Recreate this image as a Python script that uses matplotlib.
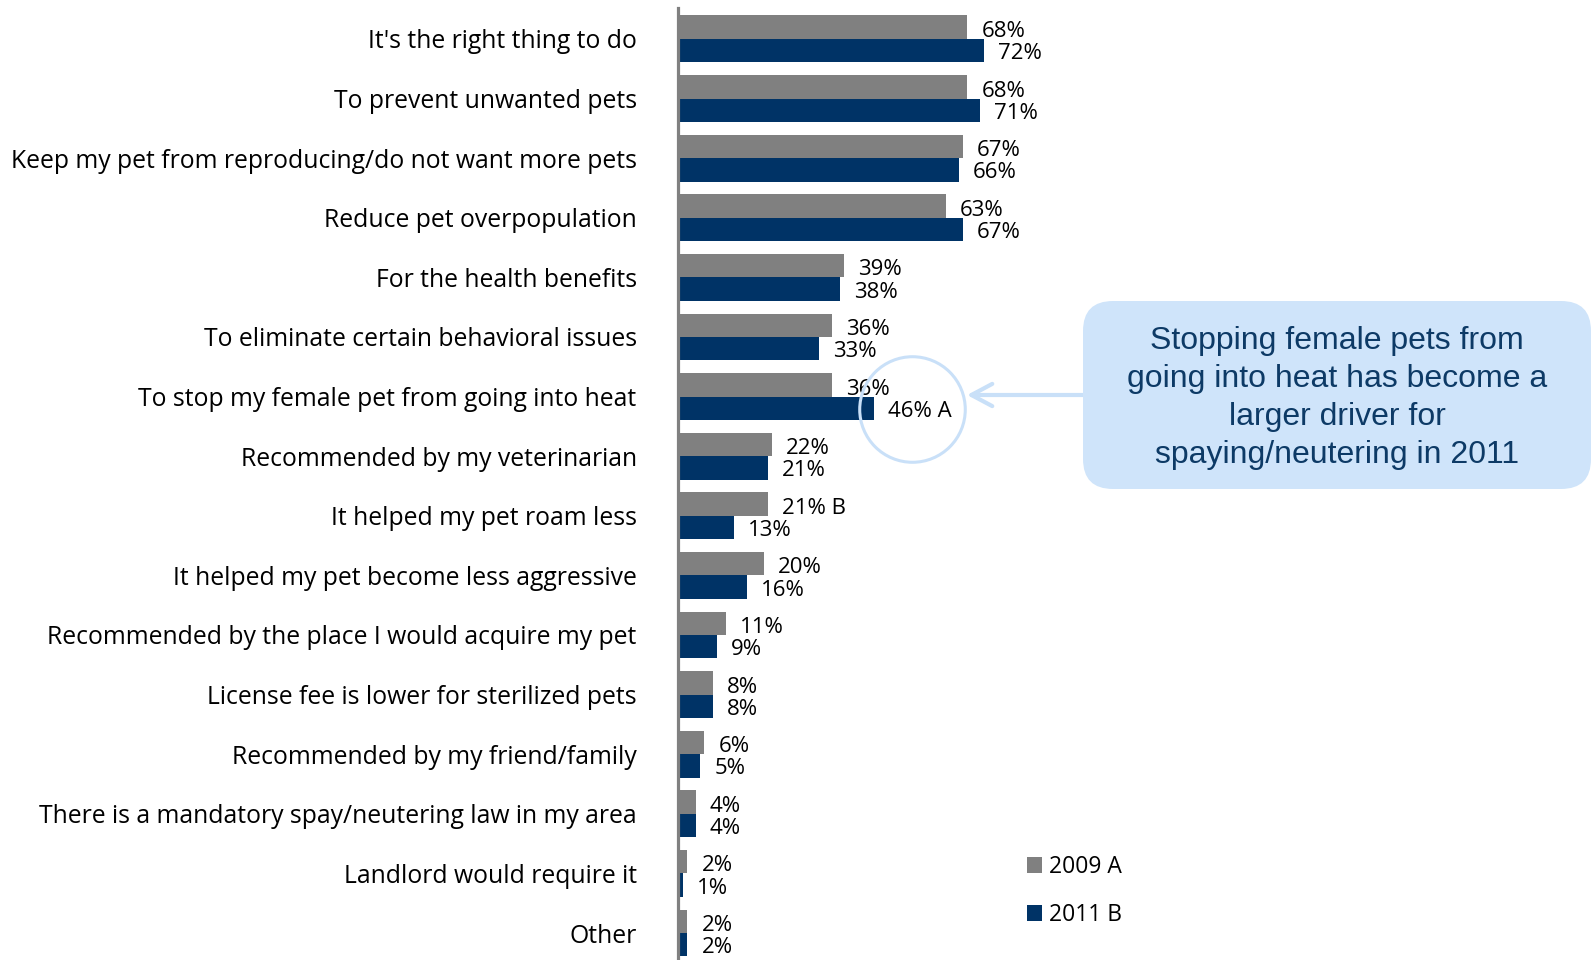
import matplotlib
matplotlib.use("Agg")
import matplotlib.pyplot as plt
from matplotlib.patches import Patch, FancyBboxPatch
import numpy as np

# Reasons for spaying/neutering, 2009 vs 2011 survey waves
categories = [
    "It's the right thing to do",
    "To prevent unwanted pets",
    "Keep my pet from reproducing/do not want more pets",
    "Reduce pet overpopulation",
    "For the health benefits",
    "To eliminate certain behavioral issues",
    "To stop my female pet from going into heat",
    "Recommended by my veterinarian",
    "It helped my pet roam less",
    "It helped my pet become less aggressive",
    "Recommended by the place I would acquire my pet",
    "License fee is lower for sterilized pets",
    "Recommended by my friend/family",
    "There is a mandatory spay/neutering law in my area",
    "Landlord would require it",
    "Other",
]
pct_2009 = [68, 68, 67, 63, 39, 36, 36, 22, 21, 20, 11, 8, 6, 4, 2, 2]
pct_2011 = [72, 71, 66, 67, 38, 33, 46, 21, 13, 16, 9, 8, 5, 4, 1, 2]
# significance letters appended to the value labels
sig_2009 = ["", "", "", "", "", "", "", "", " B", "", "", "", "", "", "", ""]
sig_2011 = ["", "", "", "", "", "", " A", "", "", "", "", "", "", "", "", ""]
series_names = ["2009 A", "2011 B"]

callout = ("Stopping female pets from\ngoing into heat has become a\n"
           "larger driver for\nspaying/neutering in 2011")

GRAY = "#808080"
NAVY = "#003366"
LIGHT = "#CFE4FA"
EDGE = "#C9E0F8"
TXT = "#0D3A66"

plt.rcParams["font.family"] = ["Open Sans", "DejaVu Sans"]

W, H = 1591, 960
fig = plt.figure(figsize=(W / 100, H / 100), dpi=100)

px_per_pct = 4.24
x0 = 677
ax = fig.add_axes([x0 / W, 0, (W - x0) / W, 1])
ax.set_xlim(-(679 - x0) / px_per_pct, (W - 679) / px_per_pct)
ax.set_ylim(15.453, -0.654)

y = np.arange(len(categories))
h = 0.394
ax.barh(y - h / 2, pct_2009, height=h, color=GRAY, zorder=2)
ax.barh(y + h / 2, pct_2011, height=h, color=NAVY, zorder=2)

ax.axvline(-0.3, ymin=0, ymax=1 - 8 / H, color=GRAY, lw=2.3, zorder=3,
           clip_on=False)

off = 14 / px_per_pct
for i in range(len(categories)):
    ax.text(pct_2009[i] + off, y[i] - h / 2 + 0.07, f"{pct_2009[i]}%{sig_2009[i]}",
            va="center", ha="left", fontsize=16, color="black")
    ax.text(pct_2011[i] + off, y[i] + h / 2 + 0.05, f"{pct_2011[i]}%{sig_2011[i]}",
            va="center", ha="left", fontsize=16, color="black")

ax.set_yticks(y, categories)
ax.tick_params(axis="y", length=0, pad=29, labelsize=17.8)
ax.set_xticks([])
for s in ax.spines.values():
    s.set_visible(False)

# ring around the 2011 heat value
ax.plot(55, 6.2, "o", ms=76, mfc="none", mec=EDGE, mew=2.2, zorder=4,
        clip_on=False)

# callout box with arrow pointing at the ring
box = FancyBboxPatch((10.83, 4.71), 5.08, 1.88,
                     boxstyle="round,pad=0,rounding_size=0.3",
                     transform=fig.dpi_scale_trans, facecolor=LIGHT,
                     edgecolor="none", zorder=1)
fig.patches.append(box)
fig.text(13.37 / 15.91, 5.62 / 9.6, callout, ha="center", va="center",
         fontsize=23, color=TXT, family="Liberation Sans", linespacing=1.36)
ax.annotate("", xy=(967, H - 395), xycoords="figure pixels",
            xytext=(1085, H - 395), textcoords="figure pixels",
            arrowprops=dict(arrowstyle="->,head_length=0.75,head_width=0.4",
                            color=EDGE, lw=3, mutation_scale=20,
                            shrinkA=0, shrinkB=0))

handles = [Patch(facecolor=GRAY), Patch(facecolor=NAVY)]
ax.legend(handles, series_names, loc="upper left",
          bbox_to_anchor=(1027 / W, 1 - 855 / H), bbox_transform=fig.transFigure,
          frameon=False, fontsize=16.5, handlelength=0.65, handleheight=0.65,
          handletextpad=0.3, labelspacing=1.05, borderpad=0, borderaxespad=0)

fig.savefig("out.png", dpi=100)
